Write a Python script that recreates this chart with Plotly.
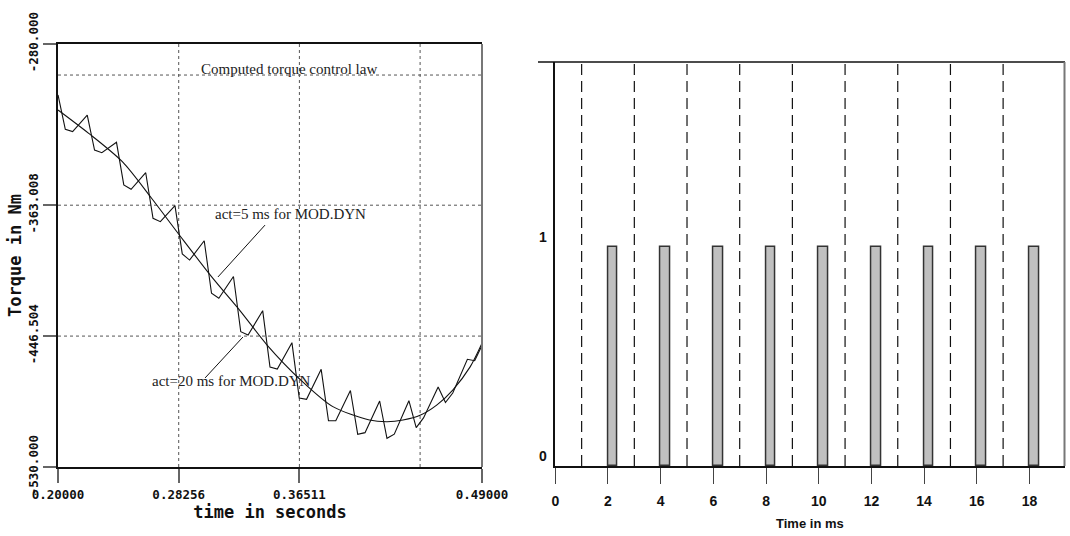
import plotly.graph_objects as go

# ---------------- Left panel data (time in s, torque in Nm) ----------------
ZIG_T = [0.200, 0.205, 0.210, 0.220, 0.225, 0.230, 0.240, 0.245, 0.250,
         0.260, 0.265, 0.270, 0.280, 0.285, 0.290, 0.300, 0.305, 0.310,
         0.320, 0.325, 0.330, 0.340, 0.345, 0.350, 0.360, 0.365, 0.370,
         0.380, 0.385, 0.390, 0.400, 0.405, 0.410, 0.420, 0.425, 0.430,
         0.440, 0.445, 0.450, 0.460, 0.465, 0.470, 0.480, 0.485, 0.490]
ZIG_TORQUE = [-292.7, -314.6, -316.1, -305.5, -327.8, -329.5, -322.9, -350.1, -352.9,
              -342.3, -371.4, -373.5, -363.3, -394.1, -398.0, -385.7, -419.2, -422.4,
              -408.5, -443.7, -445.8, -430.3, -466.2, -467.5, -450.7, -486.0, -486.8,
              -467.7, -500.5, -500.5, -481.2, -509.1, -508.1, -487.9, -511.7, -509.1,
              -487.7, -504.9, -498.7, -479.0, -488.9, -482.8, -461.3, -462.2, -452.5]

SMOOTH_T = [0.200, 0.221, 0.244, 0.264, 0.283, 0.305, 0.325, 0.343, 0.366,
            0.388, 0.413, 0.425, 0.436, 0.448, 0.459, 0.470, 0.482, 0.490]
SMOOTH_TORQUE = [-302.3, -317.2, -335.3, -358.6, -382.0, -408.6, -430.9, -452.2, -474.5,
                 -491.5, -500.0, -501.1, -500.0, -496.8, -490.5, -480.9, -466.0, -451.1]

X_RANGE = [0.2, 0.49]
Y_RANGE = [-530.0, -260.2]
X_TICK_VALS = [0.2, 0.28256, 0.36511, 0.49]
X_TICK_TEXT = ["0.20000", "0.28256", "0.36511", "0.49000"]
X_GRID = [0.28256, 0.36511, 0.44766]
Y_GRID = [-280.0, -363.008, -446.504]
Y_TICK_VALS = [-260.2, -363.008, -446.504, -530.0]
Y_TICK_TEXT = ["-280.000", "-363.008", "-446.504", "-530.000"]

# ---------------- Right panel data (time in ms) ----------------
BAR_START_MS = [2, 4, 6, 8, 10, 12, 14, 16, 18]
BAR_VALUE = [1, 1, 1, 1, 1, 1, 1, 1, 1]
BAR_WIDTH_MS = 0.36
DASH_MS = [1, 3, 5, 7, 9, 11, 13, 15, 17]
RIGHT_X_TICKS = [0, 2, 4, 6, 8, 10, 12, 14, 16, 18]
RIGHT_Y_TICKS = [0, 1]
RIGHT_X_RANGE = [0, 19.33]
RIGHT_Y_RANGE = [0, 1.843]

W, H = 1070, 536


def px(xp):
    return xp / W


def py(yp):
    return 1 - yp / H


fig = go.Figure()

# left curves
fig.add_trace(go.Scatter(x=ZIG_T, y=ZIG_TORQUE, mode="lines",
                         line=dict(color="#111111", width=1.1),
                         xaxis="x", yaxis="y", showlegend=False))
fig.add_trace(go.Scatter(x=SMOOTH_T, y=SMOOTH_TORQUE, mode="lines",
                         line=dict(color="#111111", width=1.1, shape="spline", smoothing=0.8),
                         xaxis="x", yaxis="y", showlegend=False))

# right bars
fig.add_trace(go.Bar(x=BAR_START_MS, y=BAR_VALUE, width=BAR_WIDTH_MS, offset=0,
                     marker=dict(color="#c0c0c0", line=dict(color="#333333", width=1.5)),
                     xaxis="x2", yaxis="y2", showlegend=False))

shapes = []
# left grid (dotted)
for g in X_GRID:
    shapes.append(dict(type="line", xref="x", yref="y domain", x0=g, x1=g, y0=0, y1=1,
                       line=dict(color="#555555", width=1, dash="dot"), layer="below"))
for g in Y_GRID:
    shapes.append(dict(type="line", xref="x domain", yref="y", x0=0, x1=1, y0=g, y1=g,
                       line=dict(color="#555555", width=1, dash="dot"), layer="below"))
# left right border (gray)
shapes.append(dict(type="line", xref="x domain", yref="y domain", x0=1, x1=1, y0=0, y1=1,
                   line=dict(color="#777777", width=2)))

# leader lines for annotations
shapes.append(dict(type="line", xref="x", yref="y", x0=0.3416, y0=-375.7, x1=0.3094, y1=-408.8,
                   line=dict(color="#111111", width=1)))
shapes.append(dict(type="line", xref="x", yref="y", x0=0.3265, y0=-447.1, x1=0.3006, y1=-473.2,
                   line=dict(color="#111111", width=1)))

# right dashed lines
for d in DASH_MS:
    shapes.append(dict(type="line", xref="x2", yref="y2 domain", x0=d, x1=d, y0=0, y1=1,
                       line=dict(color="#111111", width=1.2, dash="11px,6px"), layer="below"))
# right top line (extends to the left) and right border
shapes.append(dict(type="line", xref="paper", yref="paper", x0=px(538), x1=px(1065),
                   y0=py(62), y1=py(62), line=dict(color="#111111", width=1.5)))
shapes.append(dict(type="line", xref="x2 domain", yref="y2 domain", x0=1, x1=1, y0=0, y1=1,
                   line=dict(color="#777777", width=2)))

serif = dict(family="Liberation Serif, Times New Roman, serif", size=15, color="#222222")
annotations = [
    dict(text="Computed torque control law", x=px(289), y=py(69), xref="paper", yref="paper",
         xanchor="center", yanchor="middle", showarrow=False, font=serif),
    dict(text="act=5 ms for MOD.DYN", x=px(290), y=py(214), xref="paper", yref="paper",
         xanchor="center", yanchor="middle", showarrow=False, font=serif),
    dict(text="act=20 ms for MOD.DYN", x=px(231), y=py(381), xref="paper", yref="paper",
         xanchor="center", yanchor="middle", showarrow=False, font=serif),
]

mono = dict(family="DejaVu Sans Mono, monospace", size=12.5, color="#111111", weight="bold")
mono_title = dict(family="DejaVu Sans Mono, monospace", size=17, color="#111111", weight="bold")
sans_bold = dict(family="Liberation Sans, Arial, sans-serif", size=14, color="#111111", weight="bold")

fig.update_layout(
    width=W, height=H, margin=dict(l=0, r=0, t=0, b=0, autoexpand=False),
    paper_bgcolor="white", plot_bgcolor="white",
    shapes=shapes, annotations=annotations, bargap=0,
    xaxis=dict(domain=[px(58), px(482)], range=X_RANGE, tickvals=X_TICK_VALS, ticktext=X_TICK_TEXT,
               showgrid=False, zeroline=False, showline=True, linecolor="#111111", linewidth=2,
               mirror=True, ticks="outside", ticklen=14, tickcolor="#666666", tickwidth=1.5,
               tickfont=mono, anchor="y", automargin=False, ticklabelstandoff=1,
               title=dict(text="time in seconds", standoff=0, font=mono_title)),
    yaxis=dict(domain=[py(467), py(44)], range=Y_RANGE, tickvals=Y_TICK_VALS, ticktext=Y_TICK_TEXT,
               showgrid=False, zeroline=False, showline=True, linecolor="#111111", linewidth=1.5,
               ticks="outside", ticklen=13, tickcolor="#666666", tickwidth=1.5, tickangle=-90,
               tickfont=mono, anchor="x", automargin=False,
               title=dict(text="Torque in Nm", standoff=0, font=mono_title)),
    xaxis2=dict(domain=[px(555.3), px(1064.5)], range=RIGHT_X_RANGE, tickvals=RIGHT_X_TICKS,
                showgrid=False, zeroline=False, showline=True, linecolor="#111111", linewidth=1.5,
                ticks="outside", ticklen=16, tickcolor="#444444", tickwidth=1,
                tickfont=sans_bold, anchor="y2", automargin=False, ticklabelstandoff=5,
                title=dict(text="Time in ms", standoff=11,
                           font=dict(family="Liberation Sans, Arial, sans-serif", size=13,
                                     color="#111111", weight="bold"))),
    yaxis2=dict(domain=[py(466), py(62)], range=RIGHT_Y_RANGE, tickvals=RIGHT_Y_TICKS,
                showgrid=False, zeroline=False, showline=True, linecolor="#111111", linewidth=1.5,
                ticks="", ticklabelshift=-10, ticklabelstandoff=4,
                tickfont=sans_bold, anchor="x2", automargin=False),
)

fig.write_html("out.html", config={"displayModeBar": False},
               post_script="document.body.style.margin='0';document.body.style.overflow='hidden';")
